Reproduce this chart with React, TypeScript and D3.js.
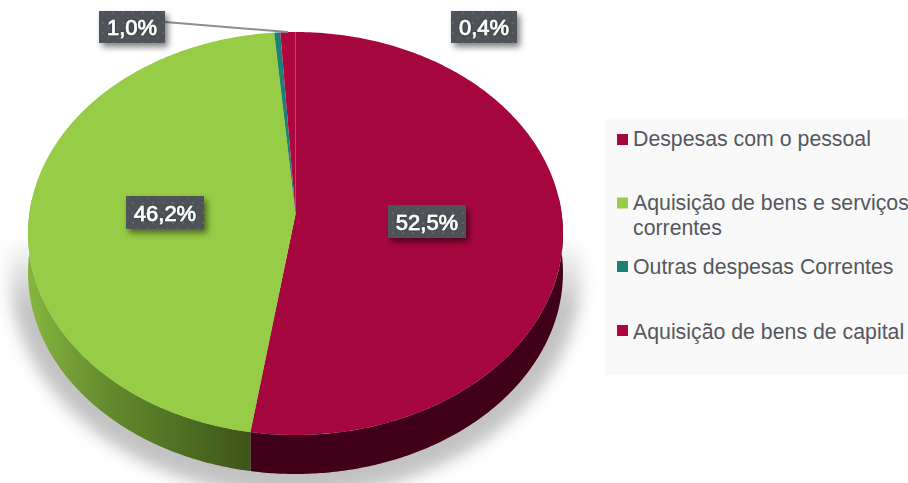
import React from "react";
import * as d3 from "d3";

const categories = ["Despesas com o pessoal", "Aquisição de bens e serviços correntes", "Outras despesas Correntes", "Aquisição de bens de capital"];
const values = [52.5, 46.2, 0.4, 1.0];
const colors = ["#A6063E", "#96CC46", "#1D8074", "#B0063F"];
const valueLabels = ["52,5%", "46,2%", "0,4%", "1,0%"];

const W = 908, H = 483;
const CX = 295.5, CY = 214;
const A = 266.2, B = 199.6, K = 0.0968, DEPTH = 39;
const project = (t: number): [number, number] => {
  const x = Math.sin(t), y = -Math.cos(t), d = 1 - K * y;
  return [CX + (A * x) / d, CY + (B * y) / d];
};
const sample = (a: number, b: number): [number, number][] => {
  const n = Math.max(2, Math.ceil(Math.abs(b - a) / 0.01));
  return d3.range(n + 1).map((i) => project(a + ((b - a) * i) / n));
};
const line = d3.line<[number, number]>();
const arcs = d3.pie<number>().sort(null)(values);
const FRONT0 = (Math.PI / 180) * 85, FRONT1 = (Math.PI / 180) * 275;

const labelBoxes = [
  { x: 388, y: 205, w: 78, h: 33 },
  { x: 126, y: 196, w: 78, h: 33 },
  { x: 451, y: 11, w: 66, h: 32 },
  { x: 99, y: 11, w: 66, h: 32 },
];
const legendRows = [
  { marker: 139.5, lines: [145.5] },
  { marker: 203, lines: [209.5, 234.5] },
  { marker: 266.5, lines: [274] },
  { marker: 330.5, lines: [338.5] },
];
const legendLines = [["Despesas com o pessoal"], ["Aquisição de bens e serviços", "correntes"], ["Outras despesas Correntes"], ["Aquisição de bens de capital"]];

export default function App() {
  const leaderEnd = project((arcs[3].startAngle + arcs[3].endAngle) / 2);
  return (
    <svg width={W} height={H} viewBox={`0 0 ${W} ${H}`} style={{ position: "absolute", left: 0, top: 0, display: "block", background: "#fff" }} fontFamily="'Liberation Sans', Arial, sans-serif">
      <defs>
        <filter id="blur" x="-20%" y="-20%" width="140%" height="140%"><feGaussianBlur stdDeviation="8" /></filter>
        <filter id="boxShadow" x="-30%" y="-30%" width="170%" height="180%"><feDropShadow dx="3" dy="4" stdDeviation="3" floodColor="#000" floodOpacity="0.5" /></filter>
        <filter id="textGlow" x="-20%" y="-30%" width="140%" height="160%"><feDropShadow dx="0" dy="0" stdDeviation="1" floodColor="#000" floodOpacity="0.5" /></filter>
        <linearGradient id="fade" x1="0" y1="235" x2="0" y2="310" gradientUnits="userSpaceOnUse">
          <stop offset="0" stopColor="#000" /><stop offset="1" stopColor="#fff" />
        </linearGradient>
        <mask id="shadowMask" maskUnits="userSpaceOnUse" x="0" y="0" width={W} height={H}>
          <rect x="0" y="0" width={W} height={H} fill="url(#fade)" />
        </mask>
        <linearGradient id="greenWall" x1="28" y1="0" x2="250" y2="0" gradientUnits="userSpaceOnUse">
          <stop offset="0" stopColor="#86B63E" /><stop offset="0.35" stopColor="#648C2E" /><stop offset="1" stopColor="#3D5518" />
        </linearGradient>
        <pattern id="dots" width="10" height="10" patternUnits="userSpaceOnUse">
          <rect width="10" height="10" fill="#4E5259" />
          <circle cx="3" cy="3" r="1.1" fill="#62666D" />
          <circle cx="8" cy="8" r="1.1" fill="#5C6067" />
        </pattern>
      </defs>

      <g mask="url(#shadowMask)">
        <ellipse cx={CX} cy={272} rx={286} ry={224} fill="#c2c2c2" filter="url(#blur)" />
      </g>

      {arcs.slice(0, 2).map((d, i) => {
        const a = Math.max(d.startAngle, FRONT0), b = Math.min(d.endAngle, FRONT1);
        const top = sample(a, b);
        const bot = top.map(([x, y]) => [x, y + DEPTH] as [number, number]).reverse();
        return <path key={i} d={line([...top, ...bot]) + "Z"} fill={i === 0 ? "#3F0018" : "url(#greenWall)"} />;
      })}

      {arcs.map((d, i) => (
        <path key={i} d={line([[CX, CY], ...sample(d.startAngle, d.endAngle)]) + "Z"} fill={colors[i]} />
      ))}

      <line x1={165} y1={22} x2={leaderEnd[0]} y2={leaderEnd[1]} stroke="#8A8E94" strokeWidth={2} />

      {labelBoxes.map((b, i) => (
        <g key={i}>
          <rect x={b.x} y={b.y} width={b.w} height={b.h} fill="url(#dots)" filter="url(#boxShadow)" />
          <text x={b.x + b.w / 2} y={b.y + b.h / 2 + 8} textAnchor="middle" fontSize={22} fill="#fff" stroke="#fff" strokeWidth={0.7} filter="url(#textGlow)">{valueLabels[i]}</text>
        </g>
      ))}

      <rect x={606} y={119} width={302} height={256} fill="#F9F9F9" />
      {legendRows.map((r, i) => (
        <g key={i}>
          <rect x={617} y={r.marker - 5.5} width={11} height={11} fill={colors[i]} />
          {legendLines[i].map((t, j) => (
            <text key={j} x={633} y={r.lines[j]} fontSize={21.3} fill="#54585E">{t}</text>
          ))}
        </g>
      ))}
      <title>{categories.join(", ")}</title>
    </svg>
  );
}
